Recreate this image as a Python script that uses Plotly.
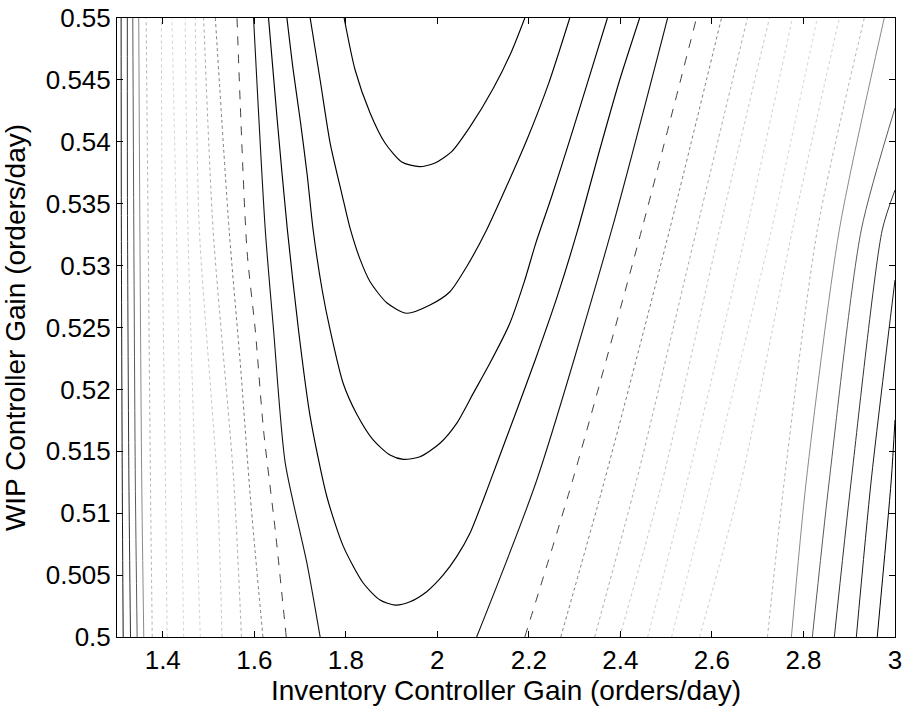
import plotly.graph_objects as go

# ---- contour lines of the cost surface (x: inventory gain, y: WIP gain) ----

# heights at which the near-vertical contour lines are sampled
Y_FULL = [0.5, 0.51268, 0.53288, 0.55]

# closed-bottom (U-shaped) contours around the valley near x = 1.93
U1_X = [1.7963, 1.8203, 1.8530, 1.8857, 1.9222, 1.9606, 1.9950, 2.0312, 2.0712, 2.1220, 2.1621, 2.1911]
U1_Y = [0.55, 0.54580, 0.54233, 0.53990, 0.53837, 0.53799, 0.53829, 0.53920, 0.54120, 0.54430, 0.54730, 0.55]

U2_X = [1.7221, 1.7439, 1.7657, 1.7919, 1.8094, 1.8312, 1.8530, 1.8894, 1.9331, 1.9839, 2.0275,
        2.0640, 2.1076, 2.1500, 2.1950, 2.2430, 2.2893]
U2_Y = [0.55, 0.54499, 0.53990, 0.53570, 0.53300, 0.53050, 0.52870, 0.52700, 0.52615, 0.52682, 0.52789,
        0.52991, 0.53288, 0.53630, 0.54010, 0.54470, 0.55]

U3_X = [1.6713, 1.6850, 1.7003, 1.7156, 1.7286, 1.7483, 1.7657, 1.7941, 1.8240, 1.8602, 1.8966, 1.9257,
        1.9621, 2.0057, 2.0422, 2.0784, 2.1147, 2.1584, 2.1900, 2.2150, 2.2500, 2.2880, 2.3300, 2.3716]
U3_Y = [0.55, 0.54580, 0.54176, 0.53732, 0.53288, 0.52803, 0.52480, 0.52050, 0.51800, 0.51590, 0.51470, 0.51435,
        0.51456, 0.51565, 0.51726, 0.51968, 0.52211, 0.52534, 0.52870, 0.53180, 0.53560, 0.54000, 0.54500, 0.55]

U4_X = [1.6311, 1.6500, 1.6720, 1.6966, 1.7221, 1.7586, 1.7948, 1.8384, 1.8748, 1.9076, 1.9403, 1.9767,
        2.0129, 2.0422, 2.0712, 2.1002, 2.1329, 2.1737, 2.2150, 2.2631, 2.3067, 2.3547, 2.3984, 2.4420]
U4_Y = [0.55, 0.54180, 0.53300, 0.52480, 0.51780, 0.51133, 0.50730, 0.50434, 0.50299, 0.50258, 0.50285, 0.50366,
        0.50501, 0.50649, 0.50838, 0.51107, 0.51430, 0.51834, 0.52250, 0.52763, 0.53288, 0.53934, 0.54499, 0.55]

# open contours on the low-gain side
L5_LEFT_X = [1.7439, 1.7149, 1.6676, 1.6421, 1.6240, 1.5984]
L5_LEFT_Y = [0.5, 0.50598, 0.51406, 0.52480, 0.53288, 0.55]
L6_LEFT_X = [1.6698, 1.6458, 1.6202, 1.6021, 1.5840, 1.5622]
L6_LEFT_Y = [0.5, 0.50864, 0.51672, 0.52480, 0.53126, 0.55]
L7_LEFT_X = [1.6189, 1.5913, 1.5694, 1.5450, 1.5149]
L7_LEFT_Y = [0.5, 0.51133, 0.52211, 0.53288, 0.55]
L8_LEFT_X = [1.5720, 1.5550, 1.5100, 1.4893]
L9_LEFT_X = [1.5295, 1.5186, 1.4800, 1.4710]
L10_LEFT_X = [1.4820, 1.4712, 1.4550, 1.4490]
L11_LEFT_X = [1.4457, 1.4400, 1.4300, 1.4200]
L12_LEFT_X = [1.4095, 1.4058, 1.3986, 1.3970]
L13_LEFT_X = [1.3770, 1.3731, 1.3680, 1.3637]
L14_LEFT_X = [1.3585, 1.3540, 1.3500, 1.3475]
L15_LEFT_X = [1.3440, 1.3400, 1.3367, 1.3345]
L16_LEFT_X = [1.3295, 1.3260, 1.3230, 1.3225]
L17_LEFT_X = [1.3135, 1.3115, 1.3095, 1.3090]

# open contours on the high-gain side
L5_RIGHT_X = [2.0858, 2.2173, 2.3809, 2.5031]
L6_RIGHT_X = [2.1911, 2.2958, 2.4464, 2.5663]
L7_RIGHT_X = [2.2697, 2.3656, 2.5074, 2.6209]
L8_RIGHT_X = [2.3438, 2.4355, 2.5663, 2.6776]
L9_RIGHT_X = [2.3984, 2.4922, 2.6165, 2.7256]
L10_RIGHT_X = [2.4595, 2.5467, 2.6754, 2.7758]
L11_RIGHT_X = [2.5118, 2.5991, 2.7300, 2.8303]
L12_RIGHT_X = [2.5729, 2.6645, 2.7758, 2.8783]
L13_RIGHT_X = [2.7213, 2.7583, 2.8303, 2.9329]
L14_RIGHT_X = [2.7736, 2.8063, 2.8783, 2.9765]
L15_RIGHT_X = [2.8194, 2.8565, 2.9263, 3.0]
L15_RIGHT_Y = [0.5, 0.51268, 0.53288, 0.54273]
L16_RIGHT_X = [2.8674, 2.9045, 2.9721, 3.0]
L16_RIGHT_Y = [0.5, 0.51268, 0.53288, 0.53611]
L17_RIGHT_X = [2.9155, 2.9481, 3.0]
L17_RIGHT_Y = [0.5, 0.51268, 0.52884]
L18_RIGHT_X = [2.9612, 2.9918, 3.0]
L18_RIGHT_Y = [0.5, 0.51268, 0.51753]

X_TICKS = [1.4, 1.6, 1.8, 2.0, 2.2, 2.4, 2.6, 2.8, 3.0]
X_TICK_TEXT = ["1.4", "1.6", "1.8", "2", "2.2", "2.4", "2.6", "2.8", "3"]
Y_TICKS = [0.5, 0.505, 0.51, 0.515, 0.52, 0.525, 0.53, 0.535, 0.54, 0.545, 0.55]
Y_TICK_TEXT = ["0.5", "0.505", "0.51", "0.515", "0.52", "0.525", "0.53", "0.535", "0.54", "0.545", "0.55"]

X_TITLE = "Inventory Controller Gain (orders/day)"
Y_TITLE = "WIP Controller Gain (orders/day)"

# grey shade and dash of each contour level (printed colormap)
LEVEL_GREY = {
    "U": "#000000", 5: "#101010", 6: "#404040", 7: "#7a7a7a", 8: "#a8a8a8", 9: "#c4c4c4",
    10: "#cfcfcf", 11: "#d4d4d4", 12: "#cccccc", 13: "#b0b0b0", 14: "#8a8a8a",
    15: "#5a5a5a", 16: "#333333", 17: "#1a1a1a", 18: "#000000",
}
LEVEL_DASH = {6: "dash", 7: "dot", 8: "dot", 9: "dot", 10: "dot", 11: "dot", 12: "dot", 13: "dot"}

fig = go.Figure()


def add_line(xs, ys, level, width=1.0):
    fig.add_trace(go.Scatter(
        x=xs, y=ys, mode="lines",
        line=dict(color=LEVEL_GREY[level], width=width, shape="spline", smoothing=0.7,
                  dash=LEVEL_DASH.get(level, "solid")),
        hoverinfo="skip", showlegend=False,
    ))


for xs, ys in [(U1_X, U1_Y), (U2_X, U2_Y), (U3_X, U3_Y), (U4_X, U4_Y)]:
    add_line(xs, ys, "U", 1.15)

add_line(L5_LEFT_X, L5_LEFT_Y, 5, 1.1)
add_line(L6_LEFT_X, L6_LEFT_Y, 6)
add_line(L7_LEFT_X, L7_LEFT_Y, 7)
for lvl, xs in [(8, L8_LEFT_X), (9, L9_LEFT_X), (10, L10_LEFT_X), (11, L11_LEFT_X),
                (12, L12_LEFT_X), (13, L13_LEFT_X), (14, L14_LEFT_X), (15, L15_LEFT_X),
                (16, L16_LEFT_X), (17, L17_LEFT_X)]:
    add_line(xs, Y_FULL, lvl)

for lvl, xs in [(5, L5_RIGHT_X), (6, L6_RIGHT_X), (7, L7_RIGHT_X), (8, L8_RIGHT_X),
                (9, L9_RIGHT_X), (10, L10_RIGHT_X), (11, L11_RIGHT_X), (12, L12_RIGHT_X),
                (13, L13_RIGHT_X), (14, L14_RIGHT_X)]:
    add_line(xs, Y_FULL, lvl, 1.1 if lvl == 5 else 1.0)
add_line(L15_RIGHT_X, L15_RIGHT_Y, 15)
add_line(L16_RIGHT_X, L16_RIGHT_Y, 16)
add_line(L17_RIGHT_X, L17_RIGHT_Y, 17)
add_line(L18_RIGHT_X, L18_RIGHT_Y, 18)

FONT = "Liberation Sans, Arial, sans-serif"
axis_common = dict(
    showline=True, linecolor="black", linewidth=1, mirror="ticks",
    ticks="inside", ticklen=6, tickcolor="black", tickwidth=1,
    showgrid=False, zeroline=False, automargin=False,
    tickfont=dict(family=FONT, size=26, color="black"),
)

fig.update_layout(
    width=909, height=712,
    margin=dict(l=117, r=14, t=18, b=75, autoexpand=False),
    paper_bgcolor="white", plot_bgcolor="white",
    xaxis=dict(range=[1.3, 3.0], tickvals=X_TICKS, ticktext=X_TICK_TEXT,
               title=dict(text=X_TITLE, font=dict(family=FONT, size=28, color="black"), standoff=6),
               **axis_common),
    yaxis=dict(range=[0.5, 0.55], tickvals=Y_TICKS, ticktext=Y_TICK_TEXT,
               title=dict(text=Y_TITLE, font=dict(family=FONT, size=28, color="black"), standoff=11),
               **axis_common),
)

fig.write_html("out.html")
